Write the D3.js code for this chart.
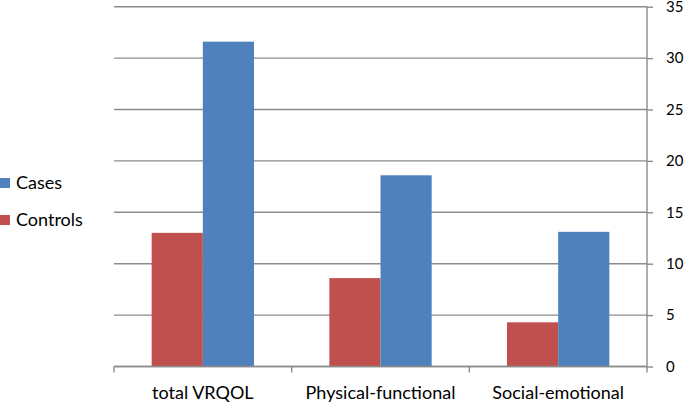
<!DOCTYPE html>
<html>
<head>
<meta charset="utf-8">
<script src="https://cdn.jsdelivr.net/npm/d3@7"></script>
<style>
  body { margin: 0; background: #fff; }
  svg { display: block; }
  text { font-family: Lato, "Open Sans", sans-serif; fill: #000; }
</style>
</head>
<body>
<svg id="chart" width="685" height="402"></svg>
<script>
const categories = ["total VRQOL", "Physical-functional", "Social-emotional"];
const seriesNames = ["Controls", "Cases"];
const controls = [13.0, 8.6, 4.3];
const cases = [31.6, 18.6, 13.1];
const yTicks = [0, 5, 10, 15, 20, 25, 30, 35];
const colors = { Cases: "#4F81BD", Controls: "#C0504D" };

const svg = d3.select("#chart");
const x0 = 114, x1 = 647, yTop = 6.7, yBot = 366.5;

const x = d3.scaleBand().domain(categories).range([x0, x1]).paddingInner(0).paddingOuter(0);
const xs = d3.scaleBand().domain(seriesNames).range([0, x.bandwidth()]).paddingInner(0).paddingOuter(0.736);
const y = d3.scaleLinear().domain([0, 35]).range([yBot, yTop]);

// gridlines
svg.append("g").selectAll("line").data(yTicks).join("line")
  .attr("x1", x0).attr("x2", x1)
  .attr("y1", d => y(d)).attr("y2", d => y(d))
  .attr("stroke", "#8c8c8c").attr("stroke-width", 1.4);

// bars
const data = categories.map((c, i) => ({ cat: c, vals: [
  { s: "Controls", v: controls[i] }, { s: "Cases", v: cases[i] }] }));
const groups = svg.append("g").selectAll("g").data(data).join("g")
  .attr("transform", d => `translate(${x(d.cat)},0)`);
groups.selectAll("rect").data(d => d.vals).join("rect")
  .attr("x", d => xs(d.s)).attr("width", xs.bandwidth())
  .attr("y", d => y(d.v)).attr("height", d => yBot - y(d.v))
  .attr("fill", d => colors[d.s]);

// right axis
const yAxis = d3.axisRight(y).tickValues(yTicks).tickSize(6).tickPadding(13);
const ya = svg.append("g").attr("transform", `translate(${x1},0)`).call(yAxis);
ya.select(".domain").attr("stroke", "#8c8c8c").attr("stroke-width", 1.4).attr("d", `M0,${yTop}V${yBot}`);
ya.selectAll(".tick line").attr("stroke", "#8c8c8c").attr("stroke-width", 1.4);
ya.selectAll(".tick text").style("font-size", "15px").style("font-family", "Lato, sans-serif").attr("fill", "#000");

// bottom axis
const xa = svg.append("g").attr("transform", `translate(0,${yBot})`);
xa.append("line").attr("x1", x0).attr("x2", x1).attr("stroke", "#8c8c8c").attr("stroke-width", 1.4);
const bounds = [x0].concat(categories.map(c => x(c) + x.bandwidth()));
xa.selectAll("line.tk").data(bounds).join("line").attr("class", "tk")
  .attr("x1", d => d).attr("x2", d => d).attr("y1", 0).attr("y2", 6)
  .attr("stroke", "#8c8c8c").attr("stroke-width", 1.4);
xa.selectAll("text").data(categories).join("text")
  .attr("x", d => x(d) + x.bandwidth() / 2).attr("y", 32.5)
  .attr("text-anchor", "middle").style("font-size", "18px").text(d => d);

// legend
const legendItems = ["Cases", "Controls"];
const lg = svg.append("g").selectAll("g").data(legendItems).join("g")
  .attr("transform", (d, i) => `translate(0,${178 + i * 37})`);
lg.append("rect").attr("x", 0).attr("y", 0).attr("width", 10).attr("height", 10)
  .attr("fill", d => colors[d]);
lg.append("text").attr("x", 16).attr("y", 11).style("font-size", "18px").text(d => d);
</script>
</body>
</html>
